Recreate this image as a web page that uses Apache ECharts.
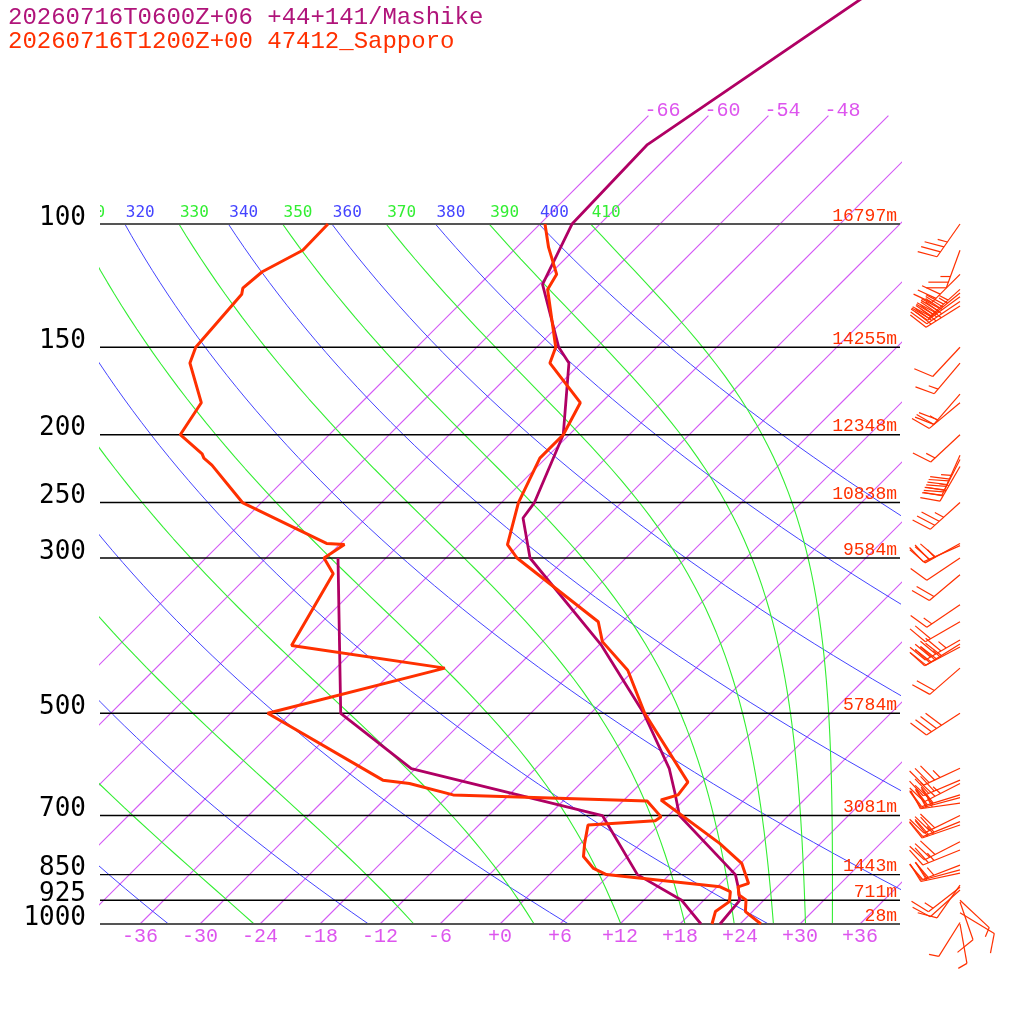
<!DOCTYPE html>
<html>
<head>
<meta charset="utf-8">
<title>Skew-T 47412 Sapporo / Mashike</title>
<script src="https://cdn.jsdelivr.net/npm/echarts@6/dist/echarts.min.js"></script>
<style>
html, body { margin: 0; padding: 0; background: #fff; }
#main { width: 1024px; height: 1024px; }
</style>
</head>
<body>
<div id="main"></div>
<script>
// ---- sounding data (pressure hPa, temperature degC) ----
var sapporoTempP = [1000, 960, 924, 909, 885, 875, 819, 767, 665, 654, 627, 500, 434, 395, 370, 300, 287, 250, 216, 200, 180, 158, 150, 124, 118, 108, 100];
var sapporoTempT = [26.1, 23.3, 22.2, 21.0, 20.1, 20.8, 18.1, 13.9, 3.7, 4.9, 4.6, -6.6, -12.6, -18.0, -20.4, -34.9, -37.2, -40.3, -42.6, -42.6, -44.1, -51.1, -52.1, -58.7, -59.3, -62.8, -65.5];

var sapporoDewP = [1000, 960, 929, 899, 885, 850, 833, 801, 767, 722, 712, 703, 667, 654, 630, 623, 500, 431, 400, 316, 300, 287, 286, 250, 221, 216, 213, 200, 180, 158, 150, 126, 123.5, 117, 109, 100];
var sapporoDewT = [21.2, 20.3, 20.7, 19.8, 18.3, 5.7, 3.8, 1.6, 0.4, -1.1, 5.2, 5.4, 2.4, -17.6, -23.1, -26.1, -44.3, -31.1, -48.7, -51.7, -54.2, -53.5, -55.4, -67.9, -74.7, -76.2, -76.8, -80.9, -82.0, -87.1, -88.1, -88.8, -89.3, -89.0, -87.1, -87.2];

var mashikeTempP = [1000, 925, 885, 850, 700, 650, 600, 500, 400, 300, 263, 250, 200, 158, 150, 122, 100, 77, 40];
var mashikeTempT = [22.0, 21.6, 20.1, 18.6, 7.1, 4.4, 1.4, -6.7, -17.7, -33.6, -38.3, -38.7, -42.6, -49.2, -51.8, -59.7, -62.8, -63.2, -53.9];

var mashikeDewP = [1000, 925, 850, 700, 600, 500, 300];
var mashikeDewT = [20.1, 15.8, 8.8, -0.6, -24.4, -37.0, -52.8];

// Sapporo winds: pressure, direction (deg), speed (kt)
var windP   = [100, 109, 118, 124, 125.5, 127, 129, 131, 150, 158, 175, 180, 200, 214, 217, 222, 250, 286, 288, 300, 317, 350, 370, 393, 398, 402, 431, 500, 599, 623, 630, 654, 660, 672, 700, 714, 722, 763, 784, 824, 837, 846, 880, 886, 894, 925, 930, 964, 995, 1000];
var windDir = [215, 200, 225, 228, 231, 234, 236, 238, 223, 220, 221, 230, 227, 204, 207, 210, 228, 241, 246, 236, 230, 236, 240, 240, 238, 242, 229, 237, 245, 247, 243, 253, 255, 262, 244, 248, 251, 243, 248, 249, 255, 258, 215, 232, 228, 133, 161, 121, 212, 170];
var windSpd = [35, 25, 30, 45, 45, 40, 40, 35, 10, 15, 20, 25, 15, 35, 40, 35, 35, 30, 25, 10, 20, 15, 20, 45, 40, 35, 20, 40, 35, 30, 35, 30, 30, 25, 30, 30, 25, 30, 25, 25, 20, 20, 10, 15, 10, 5, 10, 10, 5, 5];

// ---- axis furniture ----
var pressureLevels = [100, 150, 200, 250, 300, 500, 700, 850, 925, 1000];
var heightLabels = ['16797m', '14255m', '12348m', '10838m', '9584m', '5784m', '3081m', '1443m', '711m', '28m'];
var tempTicks = [-36, -30, -24, -18, -12, -6, 0, 6, 12, 18, 24, 30, 36];
var isotherms = [-66, -60, -54, -48, -42, -36, -30, -24, -18, -12, -6, 0, 6, 12, 18, 24, 30, 36];
var isothermTopLabels = [-66, -60, -54, -48];
var thetaLabels = [310, 320, 330, 340, 350, 360, 370, 380, 390, 400, 410];
var dryThetas = [240, 260, 280, 300, 320, 340, 360, 380, 400];
var moistThetaEs = [250, 270, 290, 310, 330, 350, 370, 390, 410];

var SAPPORO = '#ff3000';
var MASHIKE = '#b00064';
var ISOTHERM_COLOR = '#d45cf5';
var ISO_TEXT = '#dd55ee';
var DRY = '#4444ff';
var MOIST = '#33ee33';

var SKEW = 30.4;                         // degC of shift per unit of ln(1000/p)
var P_TOP = 1000 * Math.exp(-924 / 304); // pressure at the top edge of the plot
var BARB_X = 46;                         // x value of the wind barb column

function skewX(t, p) {
    return t + SKEW * Math.log(1000 / p);
}

function profile(ps, ts) {
    return ps.map(function (p, i) { return [skewX(ts[i], p), p]; });
}

// saturation vapour pressure (hPa), Bolton
function esat(tc) {
    return 6.112 * Math.exp(17.67 * tc / (tc + 243.5));
}

// equivalent potential temperature of saturated air, Bolton (1980)
function thetaESat(tk, p) {
    var e = esat(tk - 273.15);
    var r = 0.622 * e / (p - e);
    return tk * Math.pow(1000 / p, 0.2854 * (1 - 0.28 * r)) *
        Math.exp((3.376 / tk - 0.00254) * r * 1000 * (1 + 0.81 * r));
}

// temperature (degC) on the pseudo-adiabat of a given theta-e at pressure p
function moistTemp(te, p) {
    var lo = 150, hi = Math.min(330, te * Math.pow(p / 1000, 0.2854));
    for (var k = 0; k < 60; k++) {
        var mid = (lo + hi) / 2;
        if (thetaESat(mid, p) > te) hi = mid; else lo = mid;
    }
    return (lo + hi) / 2 - 273.15;
}

function dryTemp(theta, p) {
    return theta * Math.pow(p / 1000, 0.286) - 273.15;
}

var adiabatP = [];
for (var k = 0; k <= 60; k++) {
    adiabatP.push(1000 * Math.pow(0.1, k / 60));
}

var series = [];

function addLine(data, color, width, z) {
    series.push({
        type: 'line',
        data: data,
        color: color,
        symbol: 'none',
        showSymbol: false,
        silent: true,
        animation: false,
        clip: true,
        itemStyle: { color: color },
        lineStyle: { color: color, width: width, opacity: 1 },
        z: z
    });
}

// dry adiabats
dryThetas.forEach(function (th) {
    addLine(adiabatP.map(function (p) { return [skewX(dryTemp(th, p), p), p]; }), DRY, 1, 2);
});

// moist adiabats
var moistTop = {};
moistThetaEs.forEach(function (te) {
    var pts = adiabatP.map(function (p) { return [skewX(moistTemp(te, p), p), p]; });
    moistTop[te] = pts[pts.length - 1][0];
    addLine(pts, MOIST, 1.1, 2);
});

// isotherms, 1000 to 70 hPa, each sampled along its length
// (a width of exactly 1 renders these 45 degree lines dark, so keep it a bit above)
isotherms.forEach(function (t) {
    var pts = [];
    for (var k = 0; k <= 20; k++) {
        var p = 1000 * Math.pow(0.07, k / 20);
        pts.push([skewX(t, p), p]);
    }
    addLine(pts, ISOTHERM_COLOR, 1.15, 1);
});

// pressure lines
pressureLevels.forEach(function (p) {
    var edge = (p == 100 || p == 1000);
    addLine([[-40, p], [40, p]], edge ? '#555' : '#000', edge ? 2 : 1.4, 3);
});

// soundings
addLine(profile(mashikeDewP, mashikeDewT), MASHIKE, 2.8, 10);
addLine(profile(mashikeTempP, mashikeTempT), MASHIKE, 2.8, 10);
addLine(profile(sapporoDewP, sapporoDewT), SAPPORO, 3, 11);
addLine(profile(sapporoTempP, sapporoTempT), SAPPORO, 3, 11);

function textEl(x, y, str, color, font, align) {
    return {
        type: 'text',
        x: x,
        y: y,
        style: {
            text: str, fill: color, font: font,
            align: align, verticalAlign: 'middle',
            textAlign: align, textVerticalAlign: 'middle'
        }
    };
}

// left pressure labels and right height labels
series.push({
    type: 'custom', clip: false, silent: true, animation: false, z: 20,
    data: pressureLevels.map(function (p) { return [-40, p]; }),
    renderItem: function (params, api) {
        var i = params.dataIndex;
        var left = api.coord([-40, api.value(1)]);
        var right = api.coord([40, api.value(1)]);
        return {
            type: 'group',
            children: [
                textEl(left[0] - 14, left[1] - 6, String(pressureLevels[i]), '#000', '26px "DejaVu Sans Mono"', 'right'),
                textEl(right[0] - 3, right[1] - 8, heightLabels[i], SAPPORO, '18px "Liberation Mono"', 'right')
            ]
        };
    }
});

// bottom temperature labels
series.push({
    type: 'custom', clip: false, silent: true, animation: false, z: 20,
    data: tempTicks.map(function (t) { return [t, 1000]; }),
    renderItem: function (params, api) {
        var t = tempTicks[params.dataIndex];
        var pt = api.coord([t, 1000]);
        return textEl(pt[0], pt[1] + 13, (t >= 0 ? '+' : '') + t, ISO_TEXT, '20px "Liberation Mono"', 'center');
    }
});

// theta / theta-e labels along 100 hPa, clipped to the plot
series.push({
    type: 'custom', clip: true, silent: true, animation: false, z: 20,
    data: thetaLabels.map(function (th) {
        var x = (th % 20 == 0) ? skewX(dryTemp(th, 100), 100) : moistTop[th];
        return [x, 100];
    }),
    renderItem: function (params, api) {
        var th = thetaLabels[params.dataIndex];
        var pt = api.coord([api.value(0), 100]);
        return textEl(pt[0] + 1, pt[1] - 11, String(th), (th % 20 == 0) ? DRY : MOIST, '16px "DejaVu Sans Mono"', 'left');
    }
});

// isotherm labels at the 70 hPa ends
series.push({
    type: 'custom', clip: true, silent: true, animation: false, z: 20,
    data: isothermTopLabels.map(function (t) { return [skewX(t, 70), 70]; }),
    renderItem: function (params, api) {
        var pt = api.coord([api.value(0), 70]);
        return textEl(pt[0] - 4, pt[1] - 5, String(isothermTopLabels[params.dataIndex]), ISO_TEXT, '20px "Liberation Mono"', 'left');
    }
});

// wind barbs for Sapporo
series.push({
    type: 'custom', clip: false, silent: true, animation: false, z: 15,
    data: windP.map(function (p, i) { return [BARB_X, p, windDir[i], windSpd[i]]; }),
    renderItem: function (params, api) {
        var a = api.coord([BARB_X, api.value(1)]);
        var rad = api.value(2) * Math.PI / 180;
        var spd = api.value(3);
        var ux = Math.sin(rad), uy = -Math.cos(rad);
        var c = Math.cos(70 * Math.PI / 180), s = Math.sin(70 * Math.PI / 180);
        var fx = ux * c - uy * s, fy = ux * s + uy * c;
        var L = 40, style = { stroke: SAPPORO, lineWidth: 1.2 };
        var kids = [{
            type: 'line',
            shape: { x1: a[0], y1: a[1], x2: a[0] + ux * L, y2: a[1] + uy * L },
            style: style
        }];
        var full = Math.floor(spd / 10);
        var half = (spd % 10) >= 5 ? 1 : 0;
        var d = L;
        for (var i = 0; i < full + half; i++) {
            var len = i < full ? 20 : 10;
            var bx = a[0] + ux * d, by = a[1] + uy * d;
            kids.push({
                type: 'line',
                shape: { x1: bx, y1: by, x2: bx + fx * len, y2: by + fy * len },
                style: style
            });
            d -= 6;
        }
        return { type: 'group', children: kids };
    }
});

var myChart = echarts.init(document.getElementById('main'));

var option = {
    backgroundColor: '#fff',
    animation: false,
    grid: { left: 100, right: 124, top: 0, bottom: 100 },
    xAxis: { type: 'value', min: -40, max: 40, show: false },
    yAxis: { type: 'log', logBase: 10, min: P_TOP, max: 1000, inverse: true, show: false },
    graphic: [
        {
            type: 'text', left: 8, top: 6,
            style: { text: '20260716T0600Z+06 +44+141/Mashike', fill: '#b0147a', font: '24px "Liberation Mono"' }
        },
        {
            type: 'text', left: 8, top: 30,
            style: { text: '20260716T1200Z+00 47412_Sapporo', fill: SAPPORO, font: '24px "Liberation Mono"' }
        }
    ],
    series: series
};

myChart.setOption(option);
</script>
</body>
</html>
